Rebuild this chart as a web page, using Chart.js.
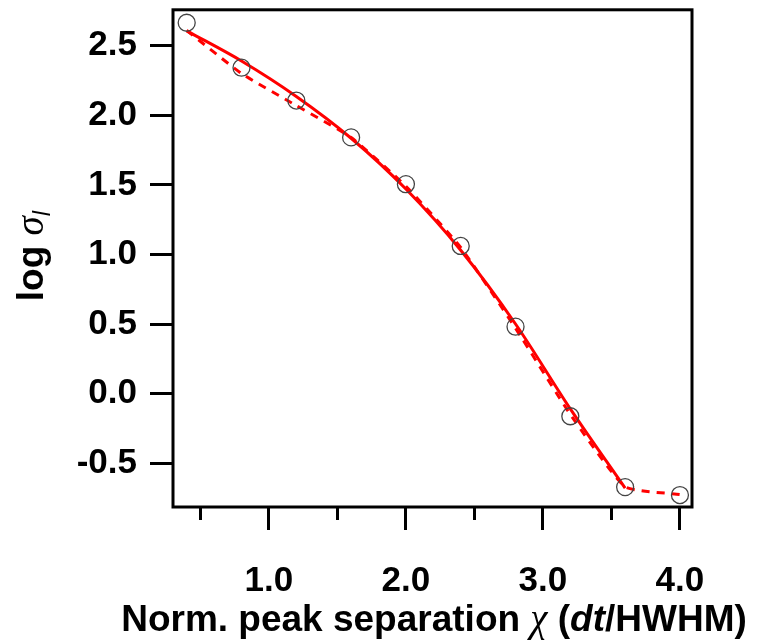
<!DOCTYPE html>
<html lang="en">
<head>
<meta charset="UTF-8">
<title>log sigma vs norm. peak separation</title>
<script src="https://cdn.jsdelivr.net/npm/chart.js"></script>
<style>
  html, body { margin: 0; padding: 0; background: #fff; }
  #wrap { width: 757px; height: 644px; }
</style>
</head>
<body>
<div id="wrap"><canvas id="grafico" width="757" height="644"></canvas></div>
<script>
// values
const sepX = [0.4, 0.8, 1.2, 1.6, 2.0, 2.4, 2.8, 3.2, 3.6, 4.0];
const logSigma = [2.665, 2.342, 2.106, 1.841, 1.505, 1.061, 0.481, -0.163, -0.672, -0.729];
const solidX = [0.4, 0.8, 1.2, 1.6, 2.0, 2.4, 2.8, 3.2, 3.6];
const solidFit = [2.607, 2.39, 2.135, 1.835, 1.47, 1.03, 0.50, -0.11, -0.68];
const dashedFit = [2.61, 2.30, 2.07, 1.84, 1.49, 1.05, 0.47, -0.15, -0.67, -0.725];
const xMajor = [1.0, 2.0, 3.0, 4.0];
const xMinor = [0.5, 1.5, 2.5, 3.5];
const yTicks = [-0.5, 0.0, 0.5, 1.0, 1.5, 2.0, 2.5];

const SANS = '"Liberation Sans", Arial, sans-serif';
const SERIF = '"Liberation Serif", "Times New Roman", serif';
Chart.defaults.font.family = SANS;
Chart.defaults.color = '#000';

const pts = (xs, ys) => xs.map((x, i) => ({ x: x, y: ys[i] }));

// draws a run of text pieces with different fonts
function richText(ctx, parts, x, y) {
  let w = 0;
  parts.forEach(p => { ctx.font = p.f; w += ctx.measureText(p.t).width; });
  let cx = x - w / 2;
  parts.forEach(p => {
    ctx.font = p.f;
    ctx.fillText(p.t, cx, y + (p.dy || 0));
    cx += ctx.measureText(p.t).width;
  });
}

const extras = {
  id: 'extras',
  afterDraw(chart) {
    const { ctx, chartArea: a } = chart;
    const x = chart.scales.x;
    ctx.save();
    ctx.strokeStyle = '#000';
    ctx.lineWidth = 3;
    ctx.strokeRect(a.left, a.top, a.right - a.left, a.bottom - a.top);

    // short minor ticks
    ctx.beginPath();
    xMinor.forEach(v => {
      const px = Math.round(x.getPixelForValue(v)) + 0.5;
      ctx.moveTo(px, a.bottom);
      ctx.lineTo(px, a.bottom + 13);
    });
    ctx.stroke();

    ctx.fillStyle = '#000';
    ctx.textBaseline = 'alphabetic';
    ctx.textAlign = 'left';
    richText(ctx, [
      { t: 'Norm. peak separation ', f: 'bold 37px ' + SANS },
      { t: 'χ', f: 'italic 39px ' + SERIF },
      { t: ' (', f: 'bold 37px ' + SANS },
      { t: 'dt', f: 'italic bold 37px ' + SANS },
      { t: '/HWHM)', f: 'bold 37px ' + SANS }
    ], 434, 631);

    ctx.translate(43, 256);
    ctx.rotate(-Math.PI / 2);
    richText(ctx, [
      { t: 'log ', f: 'bold 37px ' + SANS },
      { t: 'σ', f: 'italic 39px ' + SERIF },
      { t: 'l', f: 'italic 24px ' + SANS, dy: 7 }
    ], 0, 0);
    ctx.restore();
  }
};

new Chart(document.getElementById('grafico'), {
  type: 'scatter',
  data: {
    datasets: [
      {
        label: 'log sigma',
        data: pts(sepX, logSigma),
        pointRadius: 8.5,
        pointBorderWidth: 1.3,
        pointBorderColor: '#444',
        pointBackgroundColor: 'rgba(0,0,0,0)',
        showLine: false
      },
      {
        label: 'fit',
        data: pts(solidX, solidFit),
        showLine: true,
        borderColor: '#ff0000',
        borderWidth: 3,
        pointRadius: 0,
        cubicInterpolationMode: 'monotone'
      },
      {
        label: 'fit 2',
        data: pts(sepX, dashedFit),
        showLine: true,
        borderColor: '#ff0000',
        borderWidth: 3,
        borderDash: [8, 7],
        pointRadius: 0,
        tension: 0.15
      }
    ]
  },
  options: {
    responsive: false,
    animation: false,
    devicePixelRatio: 1,
    layout: { padding: { top: 8, right: 65, left: 0, bottom: 0 } },
    plugins: { legend: { display: false }, tooltip: { enabled: false } },
    scales: {
      x: {
        type: 'linear',
        min: 0.3,
        max: 4.088,
        afterBuildTicks: s => { s.ticks = xMajor.map(v => ({ value: v })); },
        afterFit: s => { s.height = 137; s.paddingLeft = 0; s.paddingRight = 0; },
        border: { display: false },
        grid: { drawOnChartArea: false, tickLength: 23, lineWidth: 3, tickColor: '#000' },
        ticks: {
          padding: 30,
          font: { size: 35, weight: 'bold' },
          callback: v => v.toFixed(1)
        }
      },
      y: {
        type: 'linear',
        min: -0.815,
        max: 2.758,
        afterBuildTicks: s => { s.ticks = yTicks.map(v => ({ value: v })); },
        afterFit: s => { s.width = 173; s.paddingTop = 0; s.paddingBottom = 0; },
        border: { display: false },
        grid: { drawOnChartArea: false, tickLength: 23, lineWidth: 3, tickColor: '#000' },
        ticks: {
          padding: 13,
          font: { size: 35, weight: 'bold' },
          callback: v => v.toFixed(1)
        }
      }
    }
  },
  plugins: [extras]
});
</script>
</body>
</html>
